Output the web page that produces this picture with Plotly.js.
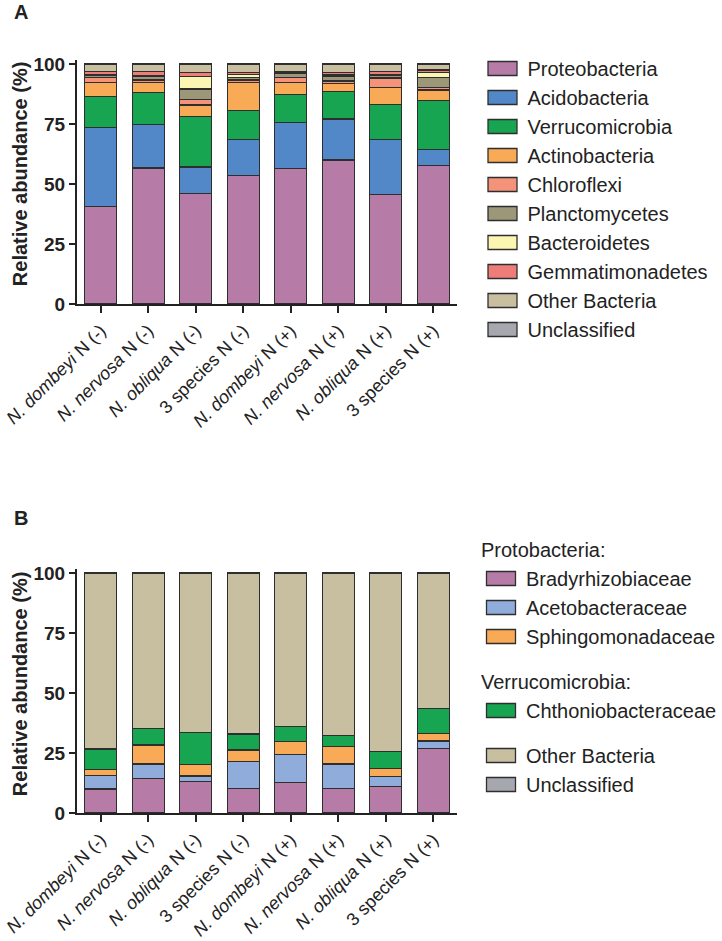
<!DOCTYPE html>
<html><head><meta charset="utf-8">
<script src="https://cdn.plot.ly/plotly-3.0.1.min.js"></script>
<style>body{margin:0;background:#fff}#chart{width:722px;height:941px}</style>
</head><body><div id="chart"></div>
<script>
// ---------- data ----------
const categories = ['dom-', 'ner-', 'obl-', 'sp3-', 'dom+', 'ner+', 'obl+', 'sp3+'];
const tickLabels = ['<i>N. dombeyi</i> N (-)', '<i>N. nervosa</i> N (-)', '<i>N. obliqua</i> N (-)', '3 species N (-)',
                    '<i>N. dombeyi</i> N (+)', '<i>N. nervosa</i> N (+)', '<i>N. obliqua</i> N (+)', '3 species N (+)'];
const yTicks = [0, 25, 50, 75, 100];
const yTitle = 'Relative abundance (%)';

// Panel A: phyla (% relative abundance)
const proteobacteria   = [40.5, 56.7, 46.1, 53.6, 56.5, 60.0, 45.7, 57.6];
const acidobacteria    = [33.0, 18.0, 11.0, 15.0, 19.2, 17.1, 22.9, 6.8];
const verrucomicrobia  = [13.0, 13.5, 21.1, 12.1, 11.7, 11.4, 14.6, 20.3];
const actinobacteria   = [5.8, 4.2, 4.7, 11.7, 5.0, 3.4, 6.9, 4.5];
const chloroflexi      = [2.0, 1.0, 2.4, 1.0, 2.0, 1.0, 4.1, 0.9];
const planctomycetes   = [1.0, 1.5, 4.3, 1.0, 1.8, 2.0, 1.0, 4.2];
const bacteroidetes    = [0.5, 0.3, 5.1, 1.4, 0.2, 0.5, 0.3, 2.2];
const gemmatimonadetes = [1.0, 1.6, 1.8, 0.8, 0.4, 1.2, 1.3, 1.0];
const otherBacteriaA   = [3.0, 3.0, 3.3, 3.2, 3.0, 3.2, 3.0, 2.3];
const unclassifiedA    = [0.2, 0.2, 0.2, 0.2, 0.2, 0.2, 0.2, 0.2];

// Panel B: families (% relative abundance)
const bradyrhizobiaceae   = [10.0, 14.4, 13.0, 10.3, 12.8, 10.3, 11.0, 26.9];
const acetobacteraceae    = [5.6, 6.0, 2.4, 11.1, 11.6, 10.1, 4.3, 3.1];
const sphingomonadaceae   = [2.6, 7.9, 4.9, 4.9, 5.3, 7.4, 3.2, 3.2];
const chthoniobacteraceae = [8.5, 7.0, 13.3, 6.6, 6.5, 4.6, 7.1, 10.4];
const otherBacteriaB      = [73.1, 64.5, 66.2, 66.9, 63.6, 67.4, 74.2, 56.2];
const unclassifiedB       = [0.2, 0.2, 0.2, 0.2, 0.2, 0.2, 0.2, 0.2];

// ---------- styles ----------
const C = {
  proteo: '#B67BA6', acido: '#5288C8', verru: '#17A552', actino: '#F8AA57',
  chloro: '#F4937A', plancto: '#9C9779', bactero: '#FCF6B3', gemma: '#EE7C78',
  other: '#C8BFA0', uncl: '#A7A8AF', aceto: '#8FACDB'
};
const FONT = 'Arial, Liberation Sans, sans-serif';
const outline = {color: '#2e2e2e', width: 1.3};

function barA(name, y, color) {
  return {type: 'bar', x: categories, y: y, name: name, xaxis: 'x', yaxis: 'y',
          marker: {color: color, line: outline}, legend: 'legend', hoverinfo: 'skip'};
}
function barB(name, y, color, group, gtitle) {
  const t = {type: 'bar', x: categories, y: y, name: name, xaxis: 'x2', yaxis: 'y2',
          marker: {color: color, line: outline}, legend: 'legend2', legendgroup: group, hoverinfo: 'skip'};
  if (gtitle) t.legendgrouptitle = {text: gtitle, font: {size: 20, family: FONT, color: '#222'}};
  return t;
}

const traces = [
  barA('Proteobacteria', proteobacteria, C.proteo),
  barA('Acidobacteria', acidobacteria, C.acido),
  barA('Verrucomicrobia', verrucomicrobia, C.verru),
  barA('Actinobacteria', actinobacteria, C.actino),
  barA('Chloroflexi', chloroflexi, C.chloro),
  barA('Planctomycetes', planctomycetes, C.plancto),
  barA('Bacteroidetes', bacteroidetes, C.bactero),
  barA('Gemmatimonadetes', gemmatimonadetes, C.gemma),
  barA('Other Bacteria', otherBacteriaA, C.other),
  barA('Unclassified', unclassifiedA, C.uncl),
  barB('Bradyrhizobiaceae', bradyrhizobiaceae, C.proteo, 'p', 'Protobacteria:'),
  barB('Acetobacteraceae', acetobacteraceae, C.aceto, 'p', 'Protobacteria:'),
  barB('Sphingomonadaceae', sphingomonadaceae, C.actino, 'p', 'Protobacteria:'),
  barB('Chthoniobacteraceae', chthoniobacteraceae, C.verru, 'v', 'Verrucomicrobia:'),
  barB('Other Bacteria', otherBacteriaB, C.other, 'o'),
  barB('Unclassified', unclassifiedB, C.uncl, 'o')
];

const W = 722, H = 941, L = 77, R = 458;
function xAxis(anchor) {
  return {anchor: anchor, type: 'category', tickmode: 'array', tickvals: categories, ticktext: tickLabels,
          tickangle: -45, ticks: 'outside', ticklen: 7, tickwidth: 2, tickcolor: '#222',
          showline: true, linewidth: 2, linecolor: '#222', showgrid: false, zeroline: false,
          tickfont: {size: 18, family: FONT, color: '#222'}, automargin: false, fixedrange: true};
}
function yAxis(domain, anchor) {
  return {domain: domain, anchor: anchor, range: [0, 101.7], tickmode: 'array', tickvals: yTicks,
          ticks: 'outside', ticklen: 6, tickwidth: 2, tickcolor: '#222',
          showline: true, linewidth: 2, linecolor: '#222', showgrid: false, zeroline: false,
          tickfont: {size: 19, family: FONT, color: '#222', weight: 'bold'}, automargin: false,
          fixedrange: true};
}
function px2x(p) { return (p - L) / (R - L); }
function py(p) { return 1 - p / H; }

const annFont = {size: 20, family: FONT, color: '#222'};
const layout = {
  width: W, height: H, margin: {l: L, r: W - R, t: 0, b: 0},
  paper_bgcolor: '#fff', plot_bgcolor: 'rgba(0,0,0,0)',
  barmode: 'stack', bargap: 0.33,
  font: {family: FONT, color: '#222'},
  xaxis: xAxis('y'), yaxis: yAxis([py(304), py(60)], 'x'),
  xaxis2: xAxis('y2'), yaxis2: yAxis([py(813), py(569)], 'x2'),
  legend: {x: px2x(477.5), xanchor: 'left', y: py(49), yanchor: 'top', traceorder: 'normal',
           font: {size: 20, family: FONT, color: '#222'}, itemwidth: 40, tracegroupgap: 0,
           bgcolor: 'rgba(0,0,0,0)', itemclick: false, itemdoubleclick: false},
  legend2: {x: px2x(477.5), xanchor: 'left', y: py(530), yanchor: 'top', traceorder: 'grouped',
           font: {size: 20, family: FONT, color: '#222'}, itemwidth: 40, tracegroupgap: 16,
           bgcolor: 'rgba(0,0,0,0)', itemclick: false, itemdoubleclick: false},
  annotations: [
    {text: '<b>A</b>', xref: 'paper', yref: 'paper', x: px2x(12), y: py(12), xanchor: 'left', yanchor: 'middle', showarrow: false, font: annFont},
    {text: '<b>B</b>', xref: 'paper', yref: 'paper', x: px2x(12), y: py(518), xanchor: 'left', yanchor: 'middle', showarrow: false, font: annFont},
    {text: '<b>' + yTitle + '</b>', xref: 'paper', yref: 'paper', x: px2x(20), y: py(174), xanchor: 'center', yanchor: 'middle', textangle: -90, showarrow: false, font: annFont},
    {text: '<b>' + yTitle + '</b>', xref: 'paper', yref: 'paper', x: px2x(20), y: py(684), xanchor: 'center', yanchor: 'middle', textangle: -90, showarrow: false, font: annFont}
  ],
  showlegend: true
};

function widenSwatches() {
  document.querySelectorAll('#chart g.legendpoints path').forEach(function (p) {
    p.setAttribute('d', 'M-14.5,7H14.5V-7H-14.5Z');
  });
}
Plotly.newPlot('chart', traces, layout, {staticPlot: true, displayModeBar: false}).then(function () {
  widenSwatches();
  setTimeout(widenSwatches, 30);
  setTimeout(widenSwatches, 200);
});
</script></body></html>
